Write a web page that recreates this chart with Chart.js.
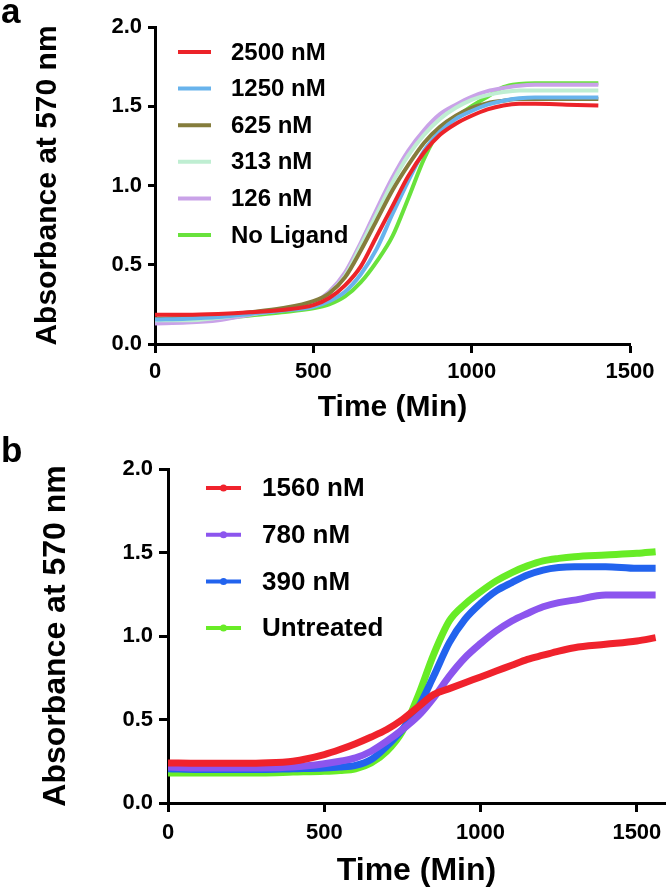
<!DOCTYPE html>
<html>
<head>
<meta charset="utf-8">
<script src="https://cdn.jsdelivr.net/npm/chart.js@4.4.1/dist/chart.umd.min.js"></script>
<style>
  body { margin: 0; background: #fff; }
  #wrap { position: relative; width: 667px; height: 890px; overflow: hidden; font-family: "Liberation Sans", Arial, sans-serif; }
  canvas { position: absolute; left: 0; }
  #chartA { top: 0; }
  #chartB { top: 445px; }
  .tag { position: absolute; left: 1px; font-weight: bold; font-size: 35px; line-height: 35px; color: #000; }
</style>
</head>
<body>
<div id="wrap">
  <canvas id="chartA" width="667" height="445"></canvas>
  <canvas id="chartB" width="667" height="445"></canvas>
  <div class="tag" style="top:-7px">a</div>
  <div class="tag" style="top:432px">b</div>
</div>
<script>
// ---- panel a: values ----
var timeA = [0, 100, 200, 300, 400, 500, 550, 600, 650, 700, 750, 800, 850, 900, 950, 1000, 1050, 1100, 1150, 1200, 1300, 1400];
var labelsA = ['2500 nM', '1250 nM', '625 nM', '313 nM', '126 nM', 'No Ligand'];
var a2500 = [.185, .185, .19, .20, .215, .245, .29, .37, .49, .68, .87, 1.06, 1.21, 1.32, 1.39, 1.44, 1.48, 1.505, 1.515, 1.515, 1.51, 1.505];
var a1250 = [.155, .16, .17, .19, .21, .235, .27, .33, .44, .60, .82, 1.03, 1.22, 1.34, 1.42, 1.47, 1.51, 1.535, 1.55, 1.555, 1.555, 1.555];
var a625 = [.16, .165, .18, .20, .225, .27, .32, .42, .59, .78, .97, 1.13, 1.27, 1.37, 1.44, 1.49, 1.52, 1.535, 1.545, 1.545, 1.545, 1.545];
var a313 = [.15, .15, .165, .19, .215, .255, .32, .43, .62, .82, 1.02, 1.19, 1.32, 1.42, 1.49, 1.54, 1.57, 1.59, 1.60, 1.60, 1.60, 1.60];
var a126 = [.13, .135, .15, .185, .215, .26, .33, .45, .64, .85, 1.05, 1.22, 1.35, 1.45, 1.51, 1.56, 1.595, 1.615, 1.63, 1.635, 1.635, 1.635];
var aNoLigand = [.15, .15, .16, .18, .20, .225, .25, .30, .39, .52, .68, .92, 1.17, 1.35, 1.43, 1.50, 1.56, 1.62, 1.64, 1.645, 1.645, 1.645];

// ---- panel b ----
var timeB = [0, 100, 200, 300, 400, 500, 550, 600, 650, 700, 750, 800, 850, 900, 950, 1000, 1050, 1100, 1150, 1200, 1250, 1300, 1400, 1500, 1560];
var labelsB = ['1560 nM', '780 nM', '390 nM', 'Untreated'];
var b1560 = [.24, .238, .238, .24, .25, .29, .32, .355, .395, .44, .50, .575, .65, .685, .72, .755, .79, .825, .86, .885, .91, .93, .95, .97, .99];
var b780 = [.215, .21, .21, .21, .215, .235, .25, .27, .31, .37, .44, .52, .63, .76, .87, .955, 1.03, 1.09, 1.135, 1.175, 1.20, 1.215, 1.245, 1.245, 1.245];
var b390 = [.205, .20, .20, .20, .205, .21, .215, .225, .26, .34, .44, .57, .76, .96, 1.10, 1.195, 1.27, 1.32, 1.365, 1.395, 1.41, 1.415, 1.415, 1.405, 1.405];
var bUntreated = [.18, .18, .18, .18, .185, .19, .195, .205, .24, .31, .43, .64, .89, 1.09, 1.19, 1.265, 1.33, 1.38, 1.42, 1.45, 1.465, 1.475, 1.485, 1.495, 1.505];

// tick labels
var xTicks = [0, 500, 1000, 1500];
var xTickLabels = ['0', '500', '1000', '1500'];
var yTicks = [0, 0.5, 1, 1.5, 2];
var yTickLabels = ['0.0', '0.5', '1.0', '1.5', '2.0'];

var colorsA = ['#ec2329', '#68b3ec', '#857d3c', '#bfeed2', '#c9a2e8', '#68e23c'];
var colorsB = ['#f0222c', '#8c55ee', '#2263ee', '#68ec26'];

Chart.defaults.font.family = '"Liberation Sans", Arial, sans-serif';
Chart.defaults.color = '#000';

// legend drawn inside the plot, rows on fixed pitch
var sideLegend = {
    id: 'sideLegend',
    afterDatasetsDraw: function(chart, args, opts) {
        var ctx = chart.ctx;
        ctx.save();
        ctx.font = 'bold ' + opts.fontSize + 'px "Liberation Sans", Arial, sans-serif';
        ctx.textBaseline = 'middle';
        chart.data.datasets.forEach(function(ds, i) {
            var y = opts.top + i * opts.rowGap;
            ctx.strokeStyle = ds.borderColor;
            ctx.lineWidth = opts.lineWidth;
            ctx.beginPath();
            ctx.moveTo(opts.x0, y);
            ctx.lineTo(opts.x1, y);
            ctx.stroke();
            if (opts.dot) {
                ctx.fillStyle = ds.borderColor;
                ctx.beginPath();
                ctx.arc((opts.x0 + opts.x1) / 2, y, opts.dot, 0, 2 * Math.PI);
                ctx.fill();
            }
            ctx.fillStyle = '#000';
            ctx.fillText(ds.label, opts.textX, y + 1);
        });
        ctx.restore();
    }
};

function makeSets(times, labels, series, colors, width) {
    return labels.map(function(lab, i) {
        return {
            label: lab,
            data: times.map(function(t, j) { return { x: t, y: series[i][j] }; }),
            borderColor: colors[i],
            borderWidth: width,
            pointRadius: 0,
            cubicInterpolationMode: 'monotone',
            fill: false
        };
    });
}

function xAxis(max, height, tickPad, titleSize, titlePad) {
    return {
        type: 'linear', min: 0, max: max,
        afterBuildTicks: function(s) { s.ticks = xTicks.map(function(v) { return { value: v }; }); },
        afterFit: function(s) {
            s.height = height;
            // keep the plot edge where the figure has it
            s.paddingLeft = 0;
            s.paddingRight = 0;
        },
        ticks: {
            color: '#000', padding: tickPad, maxRotation: 0, autoSkip: false,
            font: { size: 22, weight: 'bold' },
            callback: function(v, i) { return xTickLabels[i]; }
        },
        grid: { drawOnChartArea: false, tickLength: 9, tickWidth: 3, color: '#000' },
        border: { color: '#000', width: 3 },
        title: { display: true, text: 'Time (Min)', color: '#000', font: { size: titleSize, weight: 'bold' }, padding: { top: 0, bottom: titlePad } }
    };
}

function yAxis(width, tickLen, titleSize, titlePad) {
    return {
        min: 0, max: 2,
        afterBuildTicks: function(s) { s.ticks = yTicks.map(function(v) { return { value: v }; }); },
        afterFit: function(s) { s.width = width; },
        ticks: {
            color: '#000', padding: 6,
            font: { size: 22, weight: 'bold' },
            callback: function(v, i) { return yTickLabels[i]; }
        },
        grid: { drawOnChartArea: false, tickLength: tickLen, tickWidth: 3, color: '#000' },
        border: { color: '#000', width: 3 },
        title: { display: true, text: 'Absorbance at 570 nm', color: '#000', font: { size: titleSize, weight: 'bold' }, padding: { top: titlePad, bottom: 0 } }
    };
}

new Chart(document.getElementById('chartA').getContext('2d'), {
    type: 'line',
    data: { datasets: makeSets(timeA, labelsA, [a2500, a1250, a625, a313, a126, aNoLigand], colorsA, 4) },
    options: {
        responsive: false,
        animation: false,
        layout: { padding: { top: 27, right: 37, left: 0, bottom: 0 } },
        scales: {
            x: xAxis(1500, 101, 6, 30, 19),
            y: yAxis(155, 7, 30, 30)
        },
        plugins: {
            legend: { display: false },
            tooltip: { enabled: false },
            sideLegend: { x0: 178, x1: 211, textX: 231, top: 52, rowGap: 36.6, fontSize: 24, lineWidth: 4 }
        }
    },
    plugins: [sideLegend]
});

new Chart(document.getElementById('chartB').getContext('2d'), {
    type: 'line',
    data: { datasets: makeSets(timeB, labelsB, [b1560, b780, b390, bUntreated], colorsB, 7) },
    options: {
        responsive: false,
        animation: false,
        layout: { padding: { top: 24, right: 2, left: 0, bottom: 0 } },
        scales: {
            x: xAxis(1590, 87, 8, 32, 0),
            y: yAxis(168, 9, 32, 37)
        },
        plugins: {
            legend: { display: false },
            tooltip: { enabled: false },
            sideLegend: { x0: 206, x1: 241, textX: 262, top: 43, rowGap: 46.7, fontSize: 26, lineWidth: 4, dot: 3.5 }
        }
    },
    plugins: [sideLegend]
});
</script>
</body>
</html>
